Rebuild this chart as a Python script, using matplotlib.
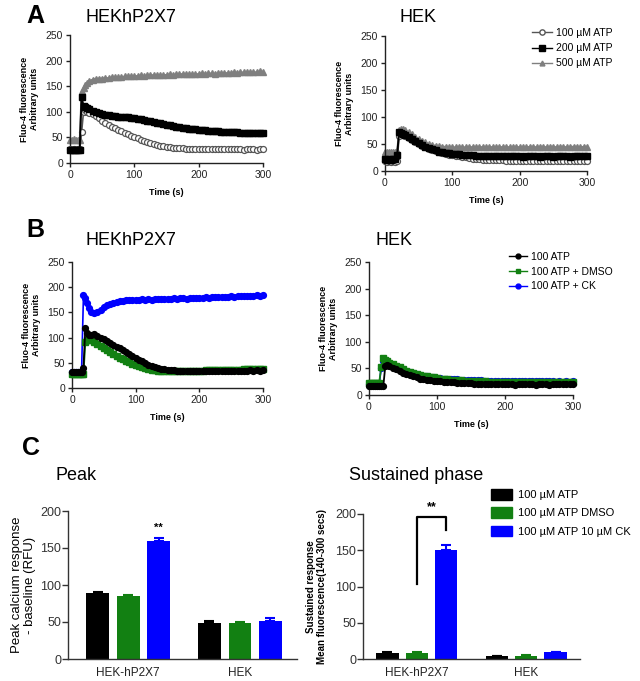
import matplotlib
matplotlib.use("Agg")
import matplotlib.pyplot as plt
from matplotlib.lines import Line2D
from matplotlib.patches import Patch

plt.rcParams['font.family'] = ['Liberation Sans', 'DejaVu Sans']

# ---------------- data ----------------
time_s = [0, 3, 6, 9, 12, 15, 18, 21, 24, 27, 30,
          35, 40, 45, 50, 55, 60, 65, 70, 75, 80,
          85, 90, 95, 100, 105, 110, 115, 120, 125, 130,
          135, 140, 145, 150, 155, 160, 165, 170, 175, 180,
          185, 190, 195, 200, 205, 210, 215, 220, 225, 230,
          235, 240, 245, 250, 255, 260, 265, 270, 275, 280,
          285, 290, 295, 300]

# Panel A, HEKhP2X7
a_hp_100 = [27, 26, 27, 26, 27, 27, 60, 100, 103, 100, 98,
            95, 91, 87, 83, 79, 74, 71, 68, 65, 62,
            59, 56, 53, 50, 48, 45, 43, 41, 39, 37,
            35, 34, 33, 32, 31, 30, 30, 29, 29, 28,
            28, 28, 28, 28, 27, 28, 27, 28, 27, 27,
            28, 27, 27, 27, 28, 27, 27, 26, 27, 27,
            27, 26, 27, 27]
a_hp_200 = [25, 25, 25, 25, 25, 25, 128, 112, 110, 108, 106,
            102, 99, 97, 95, 94, 93, 92, 91, 90, 90,
            89, 89, 88, 87, 86, 85, 84, 83, 82, 80,
            79, 78, 76, 75, 74, 73, 71, 70, 69, 68,
            67, 66, 66, 65, 64, 64, 63, 63, 62, 62,
            61, 61, 61, 60, 60, 60, 59, 59, 59, 59,
            59, 58, 58, 58]
a_hp_500 = [45, 45, 46, 45, 45, 45, 140, 146, 152, 157, 160,
            163, 164, 165, 165, 166, 166, 167, 167, 168, 168,
            169, 169, 170, 170, 170, 171, 170, 171, 171, 172,
            172, 171, 172, 172, 173, 172, 173, 173, 174, 173,
            174, 174, 173, 174, 175, 174, 175, 175, 174, 175,
            176, 175, 176, 176, 177, 176, 177, 177, 178, 177,
            178, 177, 179, 178]
# Panel A, HEK
a_hek_100 = [18, 17, 18, 17, 18, 17, 18, 65, 68, 66, 64,
             61, 58, 54, 50, 47, 44, 41, 39, 37, 35,
             33, 31, 30, 29, 28, 27, 26, 25, 24, 23,
             22, 22, 21, 21, 21, 20, 20, 20, 20, 19,
             19, 19, 19, 19, 19, 18, 19, 19, 18, 19,
             18, 19, 18, 18, 19, 18, 18, 19, 18, 18,
             18, 19, 18, 18]
a_hek_200 = [22, 21, 22, 21, 22, 22, 30, 72, 70, 68, 66,
             63, 59, 55, 51, 48, 45, 42, 40, 38, 36,
             35, 34, 33, 32, 31, 31, 30, 30, 29, 29,
             28, 28, 28, 28, 27, 27, 27, 27, 27, 27,
             27, 27, 27, 27, 26, 27, 27, 27, 27, 26,
             27, 27, 27, 26, 27, 27, 27, 27, 26, 27,
             27, 27, 27, 27]
a_hek_500 = [36, 35, 36, 36, 35, 36, 37, 76, 78, 77, 75,
             72, 68, 63, 59, 56, 53, 50, 48, 47, 46,
             45, 45, 44, 44, 44, 45, 44, 44, 45, 44,
             44, 45, 44, 44, 45, 44, 44, 45, 44, 45,
             44, 45, 45, 44, 45, 44, 45, 45, 44, 45,
             45, 44, 45, 45, 44, 45, 45, 44, 45, 45,
             45, 44, 45, 45]

# Panel B, HEKhP2X7
b_hp_atp = [32, 32, 32, 32, 32, 32, 40, 120, 110, 105, 106,
            107, 104, 100, 97, 93, 90, 86, 82, 79, 75,
            71, 67, 63, 60, 56, 53, 49, 46, 44, 42,
            40, 38, 37, 36, 35, 35, 34, 34, 34, 34,
            34, 34, 34, 34, 34, 34, 33, 34, 34, 34,
            34, 34, 34, 33, 34, 34, 34, 34, 34, 35,
            34, 35, 34, 35]
b_hp_dmso = [27, 27, 27, 27, 27, 27, 28, 92, 96, 97, 95,
             92, 88, 84, 80, 76, 72, 68, 64, 60, 57,
             54, 51, 48, 45, 43, 41, 39, 37, 36, 35,
             34, 34, 33, 33, 33, 33, 33, 33, 34, 34,
             34, 34, 34, 34, 34, 35, 35, 35, 35, 35,
             35, 35, 36, 36, 36, 36, 36, 37, 37, 37,
             37, 38, 38, 38]
b_hp_ck = [31, 31, 31, 31, 31, 31, 184, 178, 168, 158, 151,
           149, 150, 155, 160, 164, 167, 169, 171, 172, 173,
           174, 174, 175, 175, 174, 176, 175, 176, 175, 176,
           177, 176, 177, 177, 176, 178, 177, 178, 178, 177,
           178, 179, 178, 179, 179, 180, 179, 180, 180, 181,
           181, 180, 181, 182, 181, 182, 182, 183, 182, 183,
           183, 184, 183, 184]
# Panel B, HEK
b_hek_atp = [16, 16, 16, 16, 16, 16, 16, 16, 55, 56, 54,
             51, 48, 45, 42, 39, 37, 35, 33, 31, 30,
             29, 28, 27, 26, 26, 25, 25, 24, 24, 23,
             23, 22, 22, 22, 21, 21, 21, 21, 20, 20,
             20, 20, 20, 20, 20, 20, 19, 20, 20, 20,
             20, 20, 19, 20, 20, 20, 19, 20, 20, 20,
             20, 20, 20, 20]
b_hek_dmso = [23, 23, 23, 23, 23, 23, 53, 70, 65, 63, 61,
              58, 55, 52, 49, 46, 44, 42, 40, 38, 36,
              35, 34, 33, 32, 31, 30, 30, 29, 29, 28,
              28, 27, 27, 27, 26, 26, 26, 26, 25, 25,
              25, 25, 25, 25, 25, 25, 24, 25, 25, 24,
              24, 25, 24, 24, 24, 24, 24, 24, 24, 24,
              24, 24, 24, 24]
b_hek_ck = [21, 21, 21, 21, 21, 21, 50, 64, 62, 60, 58,
            56, 53, 50, 47, 45, 43, 41, 39, 37, 36,
            35, 34, 33, 32, 32, 31, 31, 30, 30, 30,
            29, 29, 29, 28, 28, 28, 28, 27, 27, 27,
            27, 27, 27, 27, 27, 26, 27, 27, 26, 26,
            26, 26, 26, 26, 26, 26, 26, 26, 25, 26,
            25, 26, 25, 26]

# Panel C
groups = ['HEK-hP2X7', 'HEK']
treatments = ['100 µM ATP', '100 µM ATP DMSO', '100 µM ATP 10 µM CK']
peak_mean = [[89, 85, 160], [48, 48, 52]]
peak_err = [[2, 1.5, 3], [3, 2, 3]]
sust_mean = [[8, 8, 150], [4, 4, 9]]
sust_err = [[1.5, 1.5, 7], [0.6, 1, 0.8]]

a_labels = ['100 µM ATP', '200 µM ATP', '500 µM ATP']
b_labels = ['100 ATP', '100 ATP + DMSO', '100 ATP + CK']

# ---------------- figure ----------------
W, H = 640, 681
fig = plt.figure(figsize=(W / 100, H / 100), dpi=100)


def ax_px(x0, x1, ytop, ybot):
    return fig.add_axes([x0 / W, 1 - ybot / H, (x1 - x0) / W, (ybot - ytop) / H])


def style_trace_ax(ax):
    ax.set_xlim(0, 300)
    ax.set_ylim(0, 250)
    ax.set_xticks([0, 100, 200, 300])
    ax.set_yticks([0, 50, 100, 150, 200, 250])
    for s in ['top', 'right']:
        ax.spines[s].set_visible(False)
    for s in ['left', 'bottom']:
        ax.spines[s].set_linewidth(1.0)
        ax.spines[s].set_color('#222222')
    ax.tick_params(direction='out', length=3, width=1, labelsize=7.5,
                   colors='#222222', pad=2)
    ax.set_xlabel('Time (s)', fontsize=6.5, fontweight='bold', labelpad=6)
    ax.set_ylabel('Fluo-4 fluorescence\nArbitrary units', fontsize=6.5,
                  fontweight='bold', labelpad=5, linespacing=1.1)


GRAY = '#7f7f7f'
CIRC = '#555555'
GREEN = '#128012'
BLUE = '#0000ff'


def plot_a(ax, y100, y200, y500):
    ax.plot(time_s, y500, color=GRAY, lw=1.3, marker='^', ms=4.2,
            mfc=GRAY, mec=GRAY, clip_on=False, zorder=2)
    ax.plot(time_s, y100, color=CIRC, lw=1.2, marker='o', ms=4.3,
            mfc='white', mec=CIRC, mew=0.9, clip_on=False, zorder=3)
    ax.plot(time_s, y200, color='black', lw=1.4, marker='s', ms=4.5,
            mfc='black', mec='black', clip_on=False, zorder=4)


def plot_b(ax, yatp, ydmso, yck):
    ax.plot(time_s, yck, color=BLUE, lw=1.2, marker='o', ms=4.2,
            clip_on=False, zorder=2)
    ax.plot(time_s, ydmso, color=GREEN, lw=1.3, marker='s', ms=4.0,
            clip_on=False, zorder=3)
    ax.plot(time_s, yatp, color='black', lw=1.3, marker='o', ms=4.2,
            clip_on=False, zorder=4)


# Panel A
axA1 = ax_px(70, 263, 35, 163)
plot_a(axA1, a_hp_100, a_hp_200, a_hp_500)
style_trace_ax(axA1)
axA2 = ax_px(385, 587, 36, 171)
plot_a(axA2, a_hek_100, a_hek_200, a_hek_500)
style_trace_ax(axA2)

hA = [Line2D([], [], color=CIRC, marker='o', ms=3.8, mfc='white', mec=CIRC, lw=1),
      Line2D([], [], color='black', marker='s', ms=3.8, lw=1),
      Line2D([], [], color=GRAY, marker='^', ms=3.5, lw=1)]
fig.legend(hA, a_labels, loc='upper left', bbox_to_anchor=(532 / W, 1 - 28 / H),
           frameon=False, fontsize=7.5, handlelength=1.9, handletextpad=0.4,
           labelspacing=0.5, borderpad=0, borderaxespad=0)

# Panel B
axB1 = ax_px(72, 263, 262, 388)
plot_b(axB1, b_hp_atp, b_hp_dmso, b_hp_ck)
style_trace_ax(axB1)
axB2 = ax_px(369, 573, 262, 395)
plot_b(axB2, b_hek_atp, b_hek_dmso, b_hek_ck)
style_trace_ax(axB2)

hB = [Line2D([], [], color='black', marker='o', ms=3.5, lw=1),
      Line2D([], [], color=GREEN, marker='s', ms=3.3, lw=1),
      Line2D([], [], color=BLUE, marker='o', ms=3.5, lw=1)]
fig.legend(hB, b_labels, loc='upper left', bbox_to_anchor=(509 / W, 1 - 252 / H),
           frameon=False, fontsize=7.5, handlelength=1.7, handletextpad=0.4,
           labelspacing=0.45, borderpad=0, borderaxespad=0)

# Panel C
bar_colors = ['black', GREEN, BLUE]


def plot_bars(ax, means, errs, centers, unit, xlim):
    for gi, c in enumerate(centers):
        for ti in range(3):
            x = c + (ti - 1) * unit
            ax.bar(x, means[gi][ti], width=0.75 * unit, color=bar_colors[ti],
                   zorder=2)
            ax.errorbar(x, means[gi][ti], yerr=[[0], [errs[gi][ti]]],
                        color=bar_colors[ti], capsize=3.5, elinewidth=1.5,
                        capthick=1.5, zorder=1)
    ax.set_xlim(*xlim)
    ax.set_ylim(0, 200)
    ax.set_yticks([0, 50, 100, 150, 200])
    ax.set_xticks(centers)
    ax.set_xticklabels(groups)
    for s in ['top', 'right']:
        ax.spines[s].set_visible(False)
    for s in ['left', 'bottom']:
        ax.spines[s].set_linewidth(1.0)
        ax.spines[s].set_color('#333333')
    ax.tick_params(axis='y', direction='out', length=4, width=1,
                   labelsize=9, colors='#333333', pad=1)
    ax.tick_params(axis='x', length=0, labelsize=8.5, colors='#222222', pad=6)


axC1 = ax_px(68, 297, 511, 659)
plot_bars(axC1, peak_mean, peak_err, [0, 3.67], 1.0, (-1.97, 5.54))
axC1.set_ylabel('Peak calcium response\n- baseline (RFU)', fontsize=9.5,
                labelpad=3, linespacing=1.05)
axC1.text(1, 177, '**', ha='center', va='center', fontsize=8, fontweight='bold')

axC2 = ax_px(363, 580, 514, 659)
plot_bars(axC2, sust_mean, sust_err, [0, 3.7], 1.0, (-1.83, 5.53))
axC2.set_ylabel('Sustained response\nMean fluorescence(140-300 secs)', fontsize=7,
                fontweight='bold', labelpad=6, linespacing=1.15)
axC2.plot([0, 0, 1, 1], [103, 196, 196, 178], color='black', lw=1.6,
          clip_on=False, zorder=5)
axC2.text(0.5, 210, '**', ha='center', va='center', fontsize=9,
          fontweight='bold')

hC = [Patch(facecolor=c, edgecolor=c) for c in bar_colors]
fig.legend(hC, treatments, loc='upper left', bbox_to_anchor=(491 / W, 1 - 489 / H),
           frameon=False, fontsize=8, handlelength=1.9, handleheight=1.1,
           handletextpad=0.55, labelspacing=0.65, borderpad=0, borderaxespad=0)

# Titles and panel letters
def ftext(x, y, s, **kw):
    fig.text(x / W, 1 - y / H, s, ha='center', va='center', **kw)


ftext(35, 16, 'A', fontsize=18, fontweight='bold')
ftext(35, 230, 'B', fontsize=18, fontweight='bold')
ftext(31, 448, 'C', fontsize=18, fontweight='bold')
ftext(131, 17, 'HEKhP2X7', fontsize=13)
ftext(418, 17, 'HEK', fontsize=13)
ftext(131, 240, 'HEKhP2X7', fontsize=13)
ftext(394, 240, 'HEK', fontsize=13)
ftext(76, 476, 'Peak', fontsize=13)
ftext(416, 476, 'Sustained phase', fontsize=13)

fig.savefig('out.png', dpi=100)
